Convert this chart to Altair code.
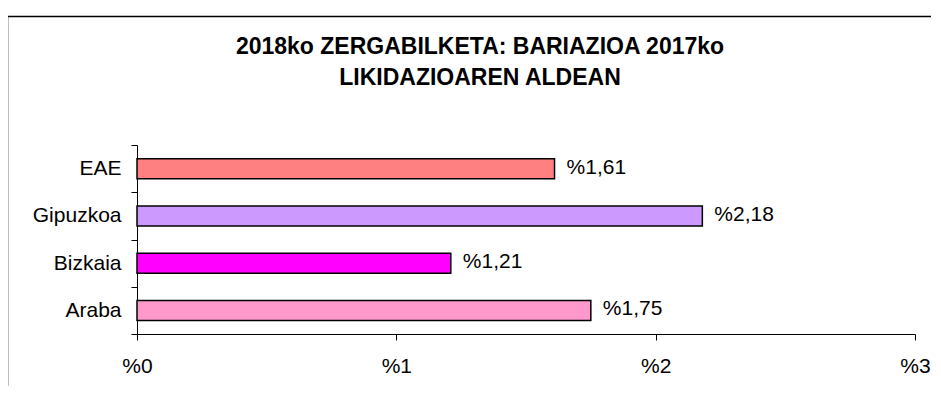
import altair as alt
import pandas as pd

categories = ["EAE", "Gipuzkoa", "Bizkaia", "Araba"]
values = [1.61, 2.18, 1.21, 1.75]
colors = ["#FF8080", "#CC99FF", "#FF00FF", "#FF99CC"]
x_ticks = [0, 1, 2, 3]
title_lines = ["2018ko ZERGABILKETA: BARIAZIOA 2017ko", "LIKIDAZIOAREN ALDEAN"]

df = pd.DataFrame({
    "cat": categories,
    "val": values,
    "label": ["%" + f"{v:.2f}".replace(".", ",") for v in values],
})

FONT = "Liberation Sans"

y_enc = alt.Y(
    "cat:N",
    sort=categories,
    title=None,
    scale=alt.Scale(paddingInner=0, paddingOuter=0),
    axis=alt.Axis(
        tickBand="extent",
        tickSize=6,
        tickColor="black",
        domainColor="black",
        labelFont=FONT,
        labelFontSize=21,
        labelColor="black",
        labelPadding=10,
        grid=False,
    ),
)

x_enc = alt.X(
    "val:Q",
    title=None,
    scale=alt.Scale(domain=[0, 3], nice=False),
    axis=alt.Axis(
        values=x_ticks,
        labelExpr="'%' + datum.value",
        tickSize=6,
        tickColor="black",
        domainColor="black",
        labelFont=FONT,
        labelFontSize=21,
        labelColor="black",
        labelPadding=15,
        labelFlush=False,
        grid=False,
    ),
)

bars = alt.Chart(df).mark_bar(size=20, stroke="black", strokeWidth=1.5).encode(
    y=y_enc,
    x=x_enc,
    color=alt.Color("cat:N", scale=alt.Scale(domain=categories, range=colors), legend=None),
)

labels = alt.Chart(df).mark_text(
    align="left", baseline="middle", dx=12, dy=-1, font=FONT, fontSize=21, color="black"
).encode(
    y=alt.Y("cat:N", sort=categories),
    x=alt.X("val:Q"),
    text="label:N",
)

one = pd.DataFrame({"a": [0]})

frame = alt.Chart(one).mark_rect(
    fill=None, stroke="black", strokeWidth=1.5, fillOpacity=0
).encode(
    x=alt.value(-129.5),
    x2=alt.value(1100),
    y=alt.value(-128.5),
    y2=alt.value(500),
)

title1 = alt.Chart(one).mark_text(
    align="center", baseline="alphabetic", font=FONT, fontSize=23, fontWeight="bold", color="black"
).encode(x=alt.value(343), y=alt.value(-91.5), text=alt.value(title_lines[0]))

title2 = alt.Chart(one).mark_text(
    align="center", baseline="alphabetic", font=FONT, fontSize=23, fontWeight="bold", color="black"
).encode(x=alt.value(343), y=alt.value(-60), text=alt.value(title_lines[1]))

chart = alt.layer(frame, title1, title2, bars, labels).properties(
    width=778,
    height=189,
    padding={"left": 129, "top": 137, "right": 16, "bottom": 52},
    autosize=alt.AutoSizeParams(type="none"),
    background="white",
).configure_view(strokeWidth=0)

chart.save("out.html", embed_options={"renderer": "svg", "actions": False})
